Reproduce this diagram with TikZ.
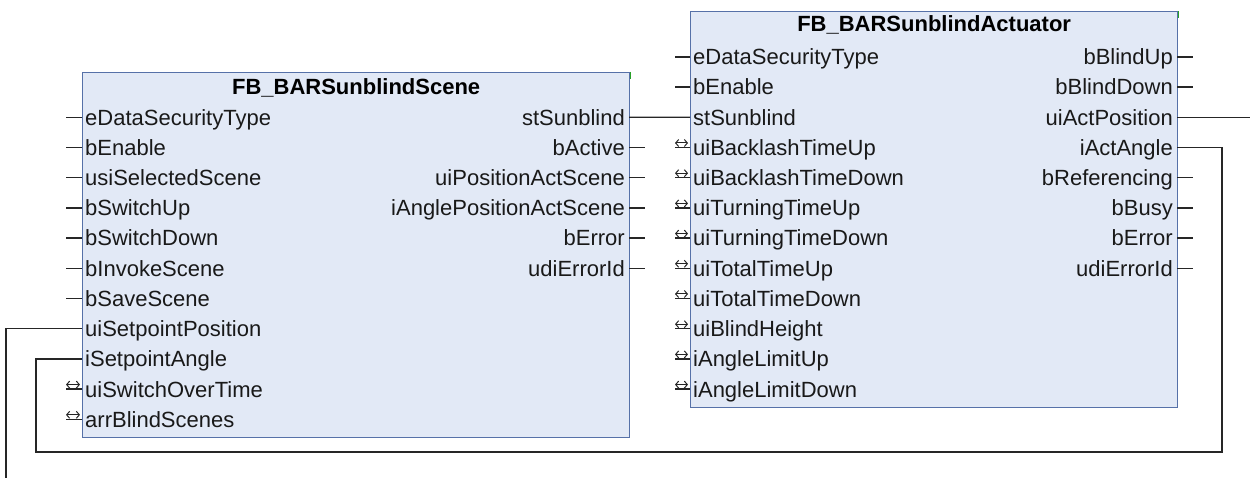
\documentclass[tikz,border=0pt]{standalone}
\usepackage{fontspec}
\setmainfont{Liberation Sans}
\usetikzlibrary{arrows.meta}

\definecolor{fbfill}{RGB}{226,233,246}
\definecolor{fbline}{RGB}{86,113,168}
\definecolor{fbgreen}{RGB}{40,160,40}

\begin{document}
\begin{tikzpicture}[x=1pt, y=-1pt, >={Straight Barb[length=3pt,width=7pt]},
  fbblock/.style={draw=fbline, fill=fbfill, line width=1.3pt, anchor=north west},
  fbtitle/.style={font=\bfseries\fontsize{22}{26}\selectfont, text height=15.8pt, text depth=0pt, inner sep=0pt},
  pinin/.style={anchor=west, inner xsep=3pt, inner ysep=0pt, text height=20.3pt, text depth=4.5pt,
    text=black!90, font=\fontsize{22}{26}\selectfont},
  pinout/.style={pinin, anchor=east, inner xsep=4pt},
  stub/.style={line width=1.3pt, black!85},
  inout/.style={<->, line width=1pt, black!85},
  wire/.style={line width=1.3pt, black!85}]
  \useasboundingbox (0,0) rectangle (1250,478);

  % scene block
  \node[fbblock, minimum width=547, minimum height=365] (scene) at (82,72) {};
  \draw[fbgreen, line width=1.3pt] (scene.north east) -- ++(0,7);
  \node[fbtitle] (sceneTitle) at ([yshift=-14.5pt]scene.north) {FB\_BARSunblindScene};
  \foreach \pin [count=\i] in {eDataSecurityType, bEnable, usiSelectedScene, bSwitchUp, bSwitchDown,
      bInvokeScene, bSaveScene, uiSetpointPosition, iSetpointAngle, uiSwitchOverTime, arrBlindScenes}
    \node[pinin] (sceneIn\i) at (82,{87.1+30.2*\i}) {\pin};
  \foreach \pin [count=\i] in {stSunblind, bActive, uiPositionActScene, iAnglePositionActScene, bError, udiErrorId}
    \node[pinout] (sceneOut\i) at (629,{87.1+30.2*\i}) {\pin};

  % actuator block
  \node[fbblock, minimum width=487, minimum height=396] (act) at (690,11) {};
  \draw[fbgreen, line width=1.3pt] (act.north east) -- ++(0,7);
  \node[fbtitle] (actTitle) at ([yshift=-12.5pt]act.north) {FB\_BARSunblindActuator};
  \foreach \pin [count=\i] in {eDataSecurityType, bEnable, stSunblind, uiBacklashTimeUp, uiBacklashTimeDown,
      uiTurningTimeUp, uiTurningTimeDown, uiTotalTimeUp, uiTotalTimeDown, uiBlindHeight,
      iAngleLimitUp, iAngleLimitDown}
    \node[pinin] (actIn\i) at (690,{26.7+30.2*\i}) {\pin};
  \foreach \pin [count=\i] in {bBlindUp, bBlindDown, uiActPosition, iActAngle, bReferencing, bBusy, bError, udiErrorId}
    \node[pinout] (actOut\i) at (1177,{26.7+30.2*\i}) {\pin};

  % open pins
  \foreach \i in {1,...,7,10,11}
    \draw[stub] (sceneIn\i.west) -- ++(-16,0);
  \foreach \i in {10,11}
    \draw[inout] ([xshift=-16pt,yshift=4.5pt]sceneIn\i.west) -- ++(14,0);
  \foreach \i in {2,...,6}
    \draw[stub] (sceneOut\i.east) -- ++(16,0);
  \foreach \i in {1,2,4,5,...,12}
    \draw[stub] (actIn\i.west) -- ++(-15,0);
  \foreach \i in {4,5,...,12}
    \draw[inout] ([xshift=-15pt,yshift=4.5pt]actIn\i.west) -- ++(13,0);
  \foreach \i in {1,2,5,6,7,8}
    \draw[stub] (actOut\i.east) -- ++(16,0);

  % wires
  \coordinate (posEnd) at (1250,0);
  \coordinate (posStart) at (6,478);
  \coordinate (angleR) at (1222,452);
  \coordinate (angleL) at (36,452);
  \draw[wire] (sceneOut1.east) -- (actIn3.west);
  \draw[wire] (actOut3.east) -- (actOut3.east -| posEnd);
  \draw[wire] (sceneIn8.west) -| (posStart);
  \draw[wire] (actOut4.east) -| (angleR) -- (angleL) |- (sceneIn9.west);
\end{tikzpicture}
\end{document}
